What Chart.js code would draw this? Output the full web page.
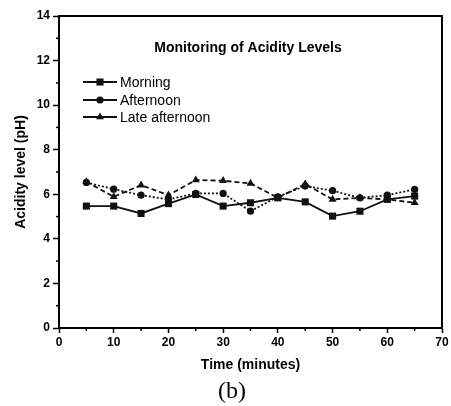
<!DOCTYPE html>
<html>
<head>
<meta charset="utf-8">
<script src="https://cdn.jsdelivr.net/npm/chart.js@4/dist/chart.umd.min.js"></script>
<style>
  html, body { margin: 0; padding: 0; background: #fff; }
  #box { width: 451px; height: 406px; }
</style>
</head>
<body>
<div id="box"><canvas id="graphique-acidite"></canvas></div>
<script>
// time in minutes
const temps = [5, 10, 15, 20, 25, 30, 35, 40, 45, 50, 55, 60, 65];
// pH
const matin = [5.47, 5.47, 5.14, 5.58, 5.99, 5.47, 5.62, 5.84, 5.66, 5.02, 5.24, 5.77, 5.92];
const apresMidi = [6.53, 6.23, 5.96, 5.77, 6.04, 6.04, 5.24, 5.89, 6.37, 6.16, 5.84, 5.96, 6.22];
const finApresMidi = [6.56, 5.89, 6.41, 5.96, 6.64, 6.61, 6.49, 5.84, 6.46, 5.77, 5.84, 5.77, 5.62];
const series = ["Morning", "Afternoon", "Late afternoon"];
const xTicks = [0, 10, 20, 30, 40, 50, 60, 70];
const yTicks = [0, 2, 4, 6, 8, 10, 12, 14];

const police = "'Liberation Sans', Arial, sans-serif";

function points(valeurs) {
  return temps.map((t, i) => ({ x: t, y: valeurs[i] }));
}

const styles = [
  { pointStyle: "rect", pointRadius: 5, borderDash: [] },
  { pointStyle: "circle", pointRadius: 3.6, borderDash: [2, 2] },
  { pointStyle: "triangle", pointRadius: 4.6, borderDash: [5, 3] },
];

const donnees = [matin, apresMidi, finApresMidi];

const datasets = donnees.map((valeurs, i) => ({
  label: series[i],
  data: points(valeurs),
  borderColor: "#111",
  backgroundColor: "#111",
  borderWidth: 1.8,
  borderDash: styles[i].borderDash,
  pointStyle: styles[i].pointStyle,
  pointRadius: styles[i].pointRadius,
  pointBorderWidth: 0,
  tension: 0,
}));

// box, minor ticks, inner title, inner legend and (b)
const decor = {
  id: "decor",
  afterDraw(chart) {
    const ctx = chart.ctx;
    const zone = chart.chartArea;
    const x = chart.scales.x;
    const y = chart.scales.y;
    ctx.save();
    ctx.strokeStyle = "#000";
    ctx.lineWidth = 2;
    ctx.beginPath();
    ctx.moveTo(zone.left, zone.top);
    ctx.lineTo(zone.right, zone.top);
    ctx.lineTo(zone.right, zone.bottom);
    ctx.stroke();

    // minor ticks
    ctx.lineWidth = 1.5;
    for (let v = 5; v < 70; v += 10) {
      const px = x.getPixelForValue(v);
      ctx.beginPath();
      ctx.moveTo(px, zone.bottom);
      ctx.lineTo(px, zone.bottom + 3);
      ctx.stroke();
    }
    for (let v = 1; v < 14; v += 2) {
      const py = y.getPixelForValue(v);
      ctx.beginPath();
      ctx.moveTo(zone.left, py);
      ctx.lineTo(zone.left - 3, py);
      ctx.stroke();
    }

    // title inside the plot
    ctx.fillStyle = "#000";
    ctx.textAlign = "center";
    ctx.textBaseline = "middle";
    ctx.font = "bold 14px " + police;
    ctx.fillText("Monitoring of Acidity Levels", 248, 48);

    // legend
    const lignes = [82, 100, 117];
    ctx.textAlign = "left";
    ctx.font = "14px " + police;
    for (let i = 0; i < series.length; i++) {
      const ly = lignes[i];
      ctx.setLineDash([]);
      ctx.lineWidth = 1.8;
      ctx.strokeStyle = "#111";
      ctx.fillStyle = "#111";
      ctx.beginPath();
      ctx.moveTo(83, ly);
      ctx.lineTo(117, ly);
      ctx.stroke();
      Chart.helpers.drawPoint(ctx, {
        pointStyle: styles[i].pointStyle,
        radius: styles[i].pointRadius,
        rotation: 0,
        borderWidth: 0,
      }, 100, ly);
      ctx.fillStyle = "#000";
      ctx.fillText(series[i], 120, ly + 1);
    }

    ctx.textAlign = "center";
    ctx.font = "24px 'Liberation Serif', 'Times New Roman', serif";
    ctx.fillText("(b)", 232, 392);
    ctx.restore();
  },
};

const config = {
  type: "line",
  data: { datasets: datasets },
  options: {
    responsive: false,
    animation: false,
    layout: { padding: { top: 16, right: 9, left: 0, bottom: 0 } },
    plugins: {
      legend: { display: false },
      title: { display: false },
      tooltip: { enabled: false },
    },
    scales: {
      x: {
        type: "linear",
        min: 0,
        max: 70,
        afterBuildTicks: (s) => { s.ticks = xTicks.map(v => ({ value: v })); },
        afterFit: (s) => { s.height = 78; },
        border: { color: "#000", width: 2 },
        grid: { drawOnChartArea: false, drawTicks: true, tickLength: 5, tickColor: "#000", tickWidth: 1.5 },
        ticks: { color: "#000", padding: 2, maxRotation: 0, font: { family: police, size: 12, weight: "bold" } },
        title: {
          display: true,
          text: "Time (minutes)",
          color: "#000",
          font: { family: police, size: 14, weight: "bold" },
          padding: { top: 0, bottom: 32 },
        },
      },
      y: {
        min: 0,
        max: 14,
        afterBuildTicks: (s) => { s.ticks = yTicks.map(v => ({ value: v })); },
        afterFit: (s) => { s.width = 59; },
        border: { color: "#000", width: 2 },
        grid: { drawOnChartArea: false, drawTicks: true, tickLength: 6, tickColor: "#000", tickWidth: 1.5 },
        ticks: { color: "#000", padding: 3, font: { family: police, size: 12, weight: "bold" } },
        title: {
          display: true,
          text: "Acidity level (pH)",
          color: "#000",
          font: { family: police, size: 14, weight: "bold" },
          padding: { top: 13, bottom: 0 },
        },
      },
    },
  },
  plugins: [decor],
};

const canvas = document.querySelector("#graphique-acidite");
canvas.width = 451;
canvas.height = 406;
new Chart(canvas, config);
</script>
</body>
</html>
